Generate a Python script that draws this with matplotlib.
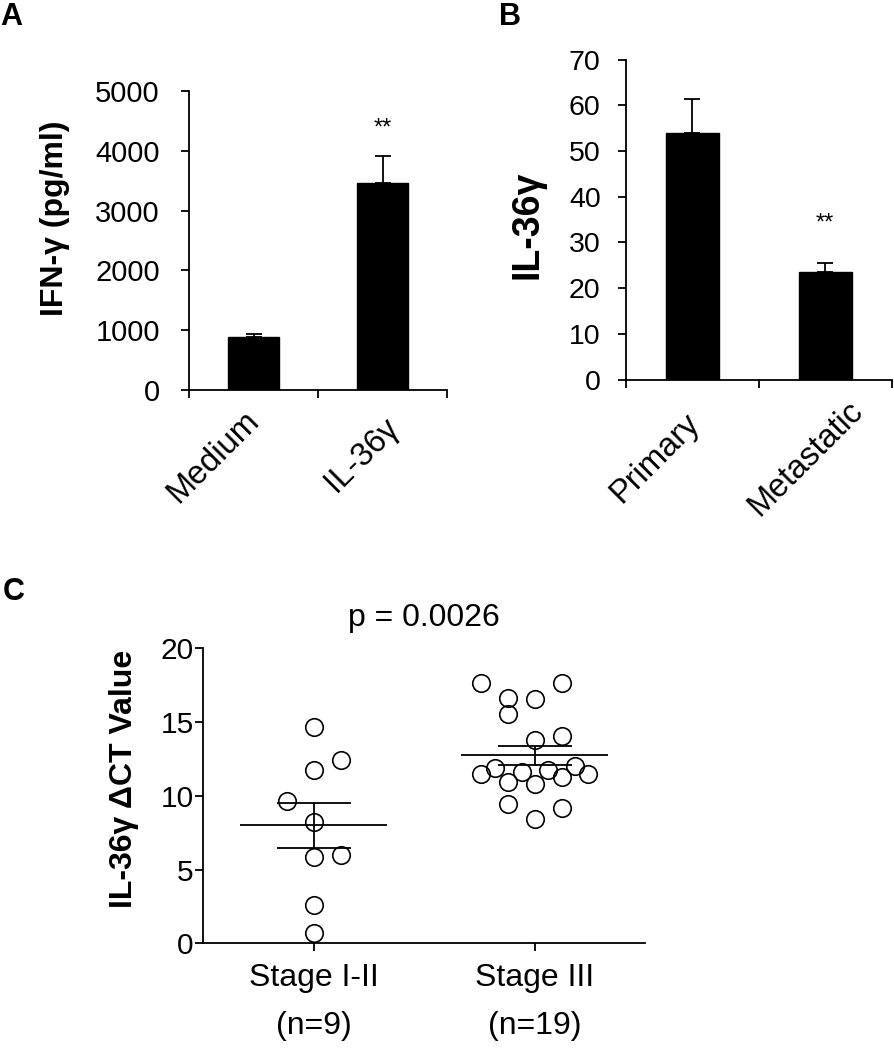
import matplotlib
matplotlib.use('Agg')
import matplotlib.pyplot as plt
import numpy as np

plt.rcParams['font.family'] = ['Liberation Sans', 'DejaVu Sans']

# ---------------- data ----------------
# Panel A
a_categories = ['Medium', 'IL-36γ']
a_values = [881, 3456]
a_errors = [52, 462]
a_yticks = [0, 1000, 2000, 3000, 4000, 5000]
a_ylabel = 'IFN-γ (pg/ml)'
a_star_value = 4270

# Panel B
b_categories = ['Primary', 'Metastatic']
b_values = [54.0, 23.5]
b_errors = [7.4, 1.9]
b_yticks = [0, 10, 20, 30, 40, 50, 60, 70]
b_ylabel = 'IL-36γ'
b_star_value = 32.9

# Panel C
c_groups = ['Stage I-II\n(n=9)', 'Stage III\n(n=19)']
c_stage12 = [14.69, 12.43, 11.75, 9.67, 8.20, 5.88, 5.99, 2.60, 0.68]
c_stage12_cols = [0, 1, 0, -1, 0, 0, 1, 0, 0]
c_stage3 = [17.63, 17.63, 16.66, 16.54, 15.53, 14.06, 13.79, 11.91, 12.05,
            11.48, 11.64, 11.75, 11.48, 10.96, 11.25, 10.78, 9.42, 9.15, 8.41]
c_stage3_cols = [-4, 2, -2, 0, -2, 2, 0, -3, 3, -4, -1, 1, 4, -2, 2, 0, -2, 2, 0]
c_yticks = [0, 5, 10, 15, 20]
c_ylabel = 'IL-36γ ΔCT Value'
c_ptext = 'p = 0.0026'

# ---------------- figure ----------------
W, H = 894, 1050
fig = plt.figure(figsize=(W / 100, H / 100), dpi=100)


def px_axes(left, right, top, bottom):
    return fig.add_axes([left / W, (H - bottom) / H, (right - left) / W, (bottom - top) / H])


LW = 1.3


def style(ax, tick_len, ypad, tick_size):
    for s in ('top', 'right'):
        ax.spines[s].set_visible(False)
    for s in ('left', 'bottom'):
        ax.spines[s].set_linewidth(LW)
    ax.tick_params(axis='both', direction='out', length=tick_len, width=LW,
                   color='black')
    ax.tick_params(axis='y', pad=ypad, labelsize=tick_size)


def bar_panel(ax, cats, vals, errs, yticks, ylabel, star_val, label_offsets,
              ylabel_coords, ylabel_size, ypad, tick_size):
    x = np.arange(len(cats)) + 0.5
    ax.bar(x, vals, width=0.4, color='black', edgecolor='black', zorder=2)
    ax.errorbar(x, vals, yerr=[np.zeros(len(vals)), errs], fmt='none',
                ecolor='black', elinewidth=LW, capsize=6, capthick=LW, zorder=3)
    ax.set_xlim(0, len(cats))
    ax.set_ylim(yticks[0], yticks[-1])
    ax.set_yticks(yticks)
    ax.set_xticks(np.arange(len(cats) + 1))
    ax.set_xticklabels([])
    style(ax, 6, ypad, tick_size)
    for xi, lab, (dx, dy) in zip(x, cats, label_offsets):
        ax.annotate(lab, xy=(xi, 0), xycoords=('data', 'axes fraction'),
                    xytext=(dx * 0.72, -dy * 0.72), textcoords='offset points',
                    rotation=45, rotation_mode='anchor', ha='center', va='center',
                    fontsize=23.5)
    ax.text(x[1], star_val, '**', ha='center', va='baseline', fontsize=17)
    ax.set_ylabel(ylabel, fontsize=ylabel_size, fontweight='bold')
    ax.yaxis.set_label_coords(*ylabel_coords)
    ax.yaxis.label.set_va('center')


# Panel A
axA = px_axes(189, 447, 91, 390)
bar_panel(axA, a_categories, a_values, a_errors, a_yticks, a_ylabel, a_star_value,
          [(-40, 67.5), (-20, 65)], (-0.519, 0.575), 23, 15, 21)

# Panel B
axB = px_axes(625.7, 891.7, 59.5, 379.5)
bar_panel(axB, b_categories, b_values, b_errors, b_yticks, b_ylabel, b_star_value,
          [(-37.5, 79), (-19.5, 79)], (-0.371, 0.482), 27, 12, 20.5)

# Panel C
axC = px_axes(203.3, 645.4, 648.3, 943.3)
groups = [(c_stage12, c_stage12_cols, 0.121), (c_stage3, c_stage3_cols, 0.0604)]
for gi, (vals, cols, step) in enumerate(groups):
    xc = gi + 1
    vals = np.asarray(vals)
    xs = xc + np.asarray(cols) * step
    axC.plot(xs, vals, linestyle='none', marker='o', markersize=12.6,
             markerfacecolor='none', markeredgecolor='black',
             markeredgewidth=1.2, clip_on=False, zorder=3)
    m = vals.mean()
    sem = vals.std(ddof=1) / np.sqrt(len(vals))
    axC.hlines(m, xc - 0.332, xc + 0.332, color='black', linewidth=LW, zorder=4)
    axC.hlines([m - sem, m + sem], xc - 0.167, xc + 0.167, color='black',
               linewidth=LW, zorder=4)
    axC.vlines(xc, m - sem, m + sem, color='black', linewidth=LW, zorder=4)

axC.set_xlim(0.5, 2.5)
axC.set_ylim(c_yticks[0], c_yticks[-1])
axC.set_yticks(c_yticks)
axC.set_xticks([1, 2])
axC.set_xticklabels(c_groups, fontsize=23, linespacing=1.8)
style(axC, 5.5, 1.5, 21.5)
axC.tick_params(axis='x', pad=8.5)
axC.set_ylabel(c_ylabel, fontsize=23, fontweight='bold')
axC.yaxis.set_label_coords(-0.179, 0.557)
axC.yaxis.label.set_va('center')
axC.text(0.5, 1.0756, c_ptext, transform=axC.transAxes, ha='center',
         va='baseline', fontsize=23)

# Panel letters
fig.text(0 / W, 1 - 25 / H, 'A', fontsize=22, fontweight='bold', ha='left', va='baseline')
fig.text(499 / W, 1 - 25 / H, 'B', fontsize=22, fontweight='bold', ha='left', va='baseline')
fig.text(3 / W, 1 - 600 / H, 'C', fontsize=22, fontweight='bold', ha='left', va='baseline')

fig.savefig('out.png', dpi=100)
